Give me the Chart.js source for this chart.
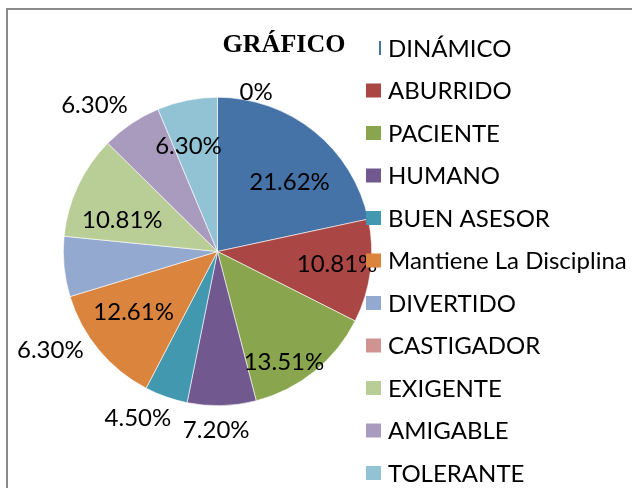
<!DOCTYPE html>
<html>
<head>
<meta charset="utf-8">
<script src="https://cdn.jsdelivr.net/npm/chart.js@4/dist/chart.umd.min.js"></script>
<style>
  html, body { margin: 0; padding: 0; background: #fff; }
  #wrap { position: relative; width: 632px; height: 488px; overflow: hidden; }
  #frame { position: absolute; left: 6px; top: 8px; right: -10px; bottom: -10px;
           border-left: 2px solid #8a8a8a; border-top: 2px solid #8a8a8a; }
  canvas { position: absolute; left: 0; top: 0; }
</style>
</head>
<body>
<div id="wrap">
  <div id="frame"></div>
  <canvas id="pieChart" width="632" height="488"></canvas>
</div>
<script>
// ---------------- data ----------------
const categories = [
  'DINÁMICO', 'ABURRIDO', 'PACIENTE', 'HUMANO', 'BUEN ASESOR',
  'Mantiene La Disciplina', 'DIVERTIDO', 'CASTIGADOR', 'EXIGENTE',
  'AMIGABLE', 'TOLERANTE',
];
const percentages = [21.62, 10.81, 13.51, 7.20, 4.50, 12.61, 6.30, 0, 10.81, 6.30, 6.30];
const sliceColors = [
  '#4572A7', '#AA4643', '#89A54E', '#71588F', '#4198AF',
  '#DB843D', '#93A9CF', '#D19392', '#B9CD96', '#A99BBD', '#92C3D5',
];
const chartTitle = 'GRÁFICO';

// label placement (radius as fraction of pie radius, angle shift in degrees)
const labelRadius = [0.65, 0.78, 0.84, 1.16, 1.2, 0.67, 1.26, 1.06, 0.65, 1.24, 0.71];
const labelShift = [7, -1, 8, 2, 6, 4, -25, 98, -7, -6, -4];

const fmt = (v) => (v === 0 ? '0%' : v.toFixed(2) + '%');
const FONT = '"Lato", "Open Sans", sans-serif';

// data labels on slices
const sliceLabels = {
  id: 'sliceLabels',
  afterDatasetsDraw(chart) {
    const ctx = chart.ctx;
    const meta = chart.getDatasetMeta(0);
    ctx.save();
    ctx.font = '24px ' + FONT;
    ctx.fillStyle = '#000';
    ctx.textAlign = 'center';
    ctx.textBaseline = 'middle';
    meta.data.forEach((arc, i) => {
      const p = arc.getProps(['x', 'y', 'startAngle', 'endAngle', 'outerRadius'], true);
      const mid = (p.startAngle + p.endAngle) / 2 + labelShift[i] * Math.PI / 180;
      const r = p.outerRadius * labelRadius[i];
      ctx.fillText(fmt(percentages[i]), p.x + Math.cos(mid) * r, p.y + Math.sin(mid) * r);
    });
    ctx.restore();
  },
};

// title + legend on the right
const sideLegend = {
  id: 'sideLegend',
  afterDraw(chart) {
    const ctx = chart.ctx;
    ctx.save();
    ctx.font = 'bold 26px "Liberation Serif", "Times New Roman", serif';
    ctx.fillStyle = '#000';
    ctx.textAlign = 'center';
    ctx.textBaseline = 'alphabetic';
    ctx.fillText(chartTitle, 284, 52);

    ctx.font = '24px ' + FONT;
    ctx.textAlign = 'left';
    ctx.textBaseline = 'middle';
    categories.forEach((name, i) => {
      const y = 48 + i * 42.5;
      ctx.fillStyle = sliceColors[i];
      if (i === 0) {
        ctx.fillRect(379, y - 7, 2, 14);
      } else {
        ctx.fillRect(366, y - 7, 15, 14);
      }
      ctx.fillStyle = '#000';
      ctx.fillText(name, 388, y + 1);
    });
    ctx.restore();
  },
};

const ctx = document.getElementById('pieChart').getContext('2d');
new Chart(ctx, {
  type: 'pie',
  data: {
    labels: categories,
    datasets: [
      {
        data: percentages,
        backgroundColor: sliceColors,
        borderColor: '#ffffff',
        borderWidth: 0.6,
      },
    ],
  },
  options: {
    responsive: false,
    animation: false,
    devicePixelRatio: 1,
    layout: {
      padding: { left: 63, right: 260, top: 97, bottom: 82 },
    },
    plugins: {
      legend: { display: false },
      tooltip: { enabled: false },
      title: { display: false },
    },
  },
  plugins: [sliceLabels, sideLegend],
});
</script>
</body>
</html>
